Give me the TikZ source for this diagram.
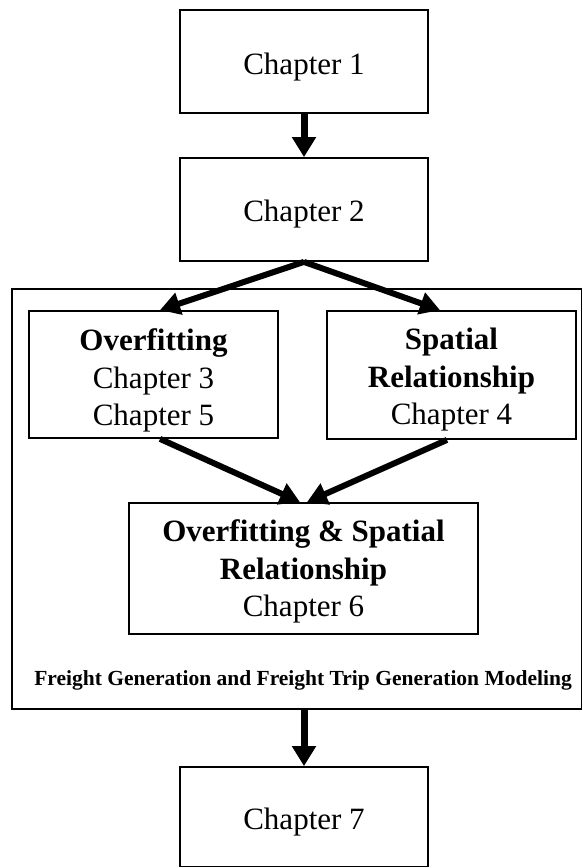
\documentclass[tikz,border=0pt]{standalone}
\usepackage{fontspec}
\setmainfont{Liberation Serif}
\usetikzlibrary{arrows.meta}
\begin{document}
\begin{tikzpicture}[x=1pt,y=-1pt,
  box/.style={draw, line width=1.8pt, inner sep=0pt},
  chapbox/.style={box, minimum width=248pt},
  txt/.style={inner sep=0pt, align=center, font=\fontsize{31}{37.5}\selectfont},
  flow/.style={line width=7pt, -{Triangle[width=23pt,length=20pt]}},
  slant/.style={line width=6pt, -{Triangle[width=22pt,length=20pt]}},
  caption/.style={font=\bfseries\fontsize{21.5}{25}\selectfont, inner sep=0pt}]
\useasboundingbox (0,0) rectangle (583,868);

% chapter chain
\node[chapbox, minimum height=103pt] (c1) at (304,61.5) {};
\node[txt] (c1t) at ([yshift=-5.5pt]c1.center) {Chapter 1};
\node[chapbox, minimum height=103pt] (c2) at (304,209.5) {};
\node[txt] (c2t) at ([yshift=-5pt]c2.center) {Chapter 2};

% modeling frame
\node[box, minimum width=569.5pt, minimum height=420pt] (frame) at (296.75,499) {};
\node[caption] (cap) at (303,680) {Freight Generation and Freight Trip Generation Modeling};

\node[box, minimum width=249pt, minimum height=127pt] (ov) at (153.5,374.5) {};
\node[txt] (ovt) at ([yshift=-6pt]ov.center) {\textbf{Overfitting}\\Chapter 3\\Chapter 5};
\node[box, minimum width=249pt, minimum height=128pt] (sp) at (451.5,375) {};
\node[txt] (spt) at ([yshift=-5pt]sp.center) {\textbf{Spatial}\\\textbf{Relationship}\\Chapter 4};
\node[box, minimum width=349pt, minimum height=131pt] (both) at (303.5,568.5) {};
\node[txt] (botht) at ([yshift=-3pt]both.center) {\textbf{Overfitting \& Spatial}\\\textbf{Relationship}\\Chapter 6};

\node[chapbox, minimum height=99.5pt] (c7) at (304,816.75) {};
\node[txt] (c7t) at ([yshift=-5pt]c7.center) {Chapter 7};

% connectors
\draw[flow] (c1.south) -- (c2.north);
\draw[slant] (c2.south) -- ([xshift=6.5pt]ov.north);
\draw[slant] (c2.south) -- ([xshift=-11.5pt]sp.north);
\draw[slant] ([xshift=6.5pt]ov.south) -- ([xshift=-3.5pt]both.north);
\draw[slant] ([xshift=-4.5pt]sp.south) -- ([xshift=3.5pt]both.north);
\draw[flow] (frame.south -| c7.north) -- (c7.north);
\end{tikzpicture}
\end{document}
